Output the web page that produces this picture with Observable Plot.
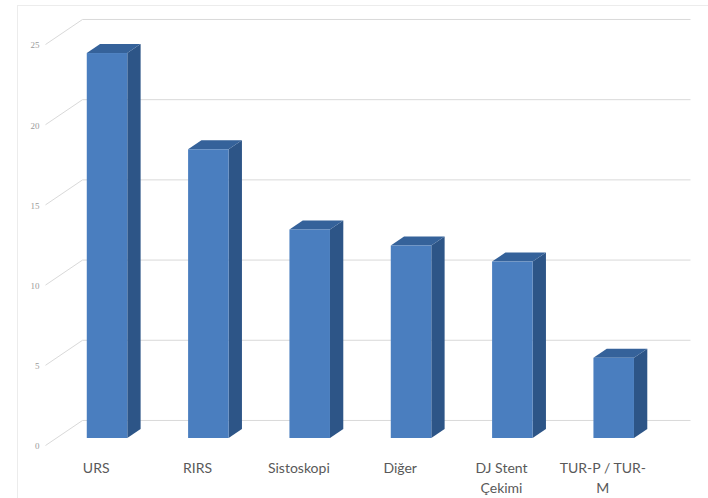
<!DOCTYPE html>
<html>
<head>
<meta charset="utf-8">
<script src="https://cdn.jsdelivr.net/npm/d3@7"></script>
<script src="https://cdn.jsdelivr.net/npm/@observablehq/plot@0.6"></script>
<style>
  html, body { margin: 0; padding: 0; background: #fff; }
  #wrap { position: relative; width: 708px; height: 498px; overflow: hidden; }
  #border { position: absolute; left: 17px; top: 5px; right: -2px; bottom: -2px; border-left: 1px solid #ececec; border-top: 1px solid #ececec; pointer-events: none; }
  #chart { position: absolute; left: 0; top: 0; }
</style>
</head>
<body>
<div id="wrap"><div id="border"></div><div id="chart"></div></div>
<script>
// ---- data ----
const categories = ["URS", "RIRS", "Sistoskopi", "Diğer", "DJ Stent\nÇekimi", "TUR-P / TUR-\nM"];
const values = [24, 18, 13, 12, 11, 5];
const yTicks = [0, 5, 10, 15, 20, 25];

// ---- 3D geometry (in data units) ----
const DX = 0.365;   // x shift from front plane to back wall
const DY = 1.56;    // y shift from front plane to back wall
const dFront = 0.28, dBack = 0.64; // depth of bar front/back faces
const barL = 0.31, barW = 0.40;

const bars = values.map((v, i) => ({cat: categories[i], v, i}));
const frontFaces = bars.map(b => ({
  cat: b.cat,
  x1: b.i + barL + DX * dFront, x2: b.i + barL + barW + DX * dFront,
  y1: DY * dFront, y2: b.v + DY * dFront
}));
const sideFaces = bars.flatMap(b => [dFront, dBack].map(d => ({
  cat: b.cat, x: b.i + barL + barW + DX * d, y1: DY * d, y2: b.v + DY * d
})));
const topFaces = bars.flatMap(b => [dFront, dBack].map(d => ({
  cat: b.cat, y: b.v + DY * d, x1: b.i + barL + DX * d, x2: b.i + barL + barW + DX * d
})));
const grid = yTicks.map(t => ({t}));
const labels = categories.map((c, i) => ({c, x: i + 0.5}));

const chart = Plot.plot({
  width: 708,
  height: 498,
  marginLeft: 45,
  marginRight: 55,
  marginTop: 44,
  marginBottom: 53,
  x: {domain: [0, 6], axis: null},
  y: {domain: [0, 25], axis: null},
  style: {background: "transparent", overflow: "visible"},
  marks: [
    // back wall gridlines
    Plot.link(grid, {x1: DX, x2: 6 + DX, y1: d => d.t + DY, y2: d => d.t + DY, stroke: "#d9d9d9", strokeWidth: 1}),
    // side wall diagonals
    Plot.link(grid, {x1: 0, y1: d => d.t, x2: DX, y2: d => d.t + DY, stroke: "#d9d9d9", strokeWidth: 1}),
    // y tick labels
    Plot.text(grid, {x: 0, y: "t", text: d => String(d.t), textAnchor: "end", dx: -6, dy: 1, fontSize: 9, fill: "#9a9a9a", fontFamily: "Liberation Serif"}),
    // bar side faces
    Plot.areaY(sideFaces, {x: "x", y1: "y1", y2: "y2", z: "cat", fill: "#2d5587", curve: "linear"}),
    // bar top faces
    Plot.areaX(topFaces, {y: "y", x1: "x1", x2: "x2", z: "cat", fill: "#35629a", curve: "linear"}),
    // bar front faces
    Plot.rect(frontFaces, {x1: "x1", x2: "x2", y1: "y1", y2: "y2", fill: "#4a7ebf"}),
    // category labels
    Plot.text(labels, {x: "x", y: 0, text: "c", lineAnchor: "top", dy: 13, lineHeight: 1.45, fontSize: 14, fill: "#595959", fontFamily: "Lato"})
  ]
});
document.getElementById("chart").appendChild(chart);
</script>
</body>
</html>
